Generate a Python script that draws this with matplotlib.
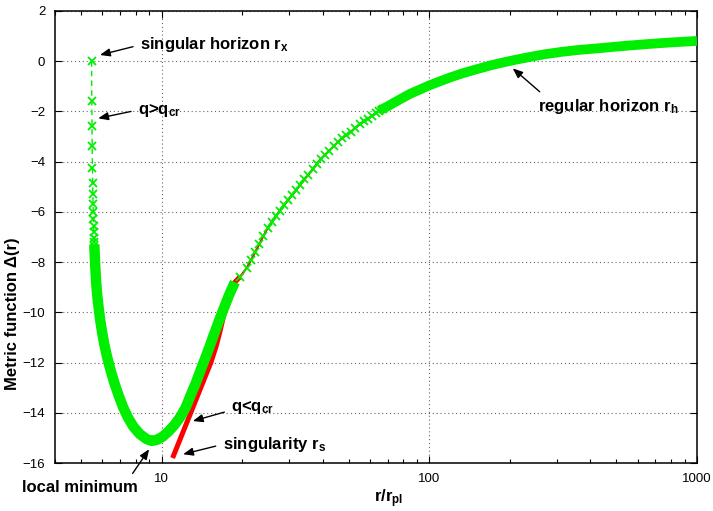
import matplotlib
matplotlib.use("Agg")
import matplotlib.pyplot as plt
from matplotlib.ticker import LogLocator, NullFormatter

plt.rcParams['font.family'] = ['Liberation Sans', 'DejaVu Sans']
plt.rcParams['mathtext.fontset'] = 'custom'
plt.rcParams['mathtext.bf'] = 'Liberation Sans:bold'
plt.rcParams['mathtext.rm'] = 'Liberation Sans'
plt.rcParams['mathtext.it'] = 'Liberation Sans:italic'

# q > q_cr branch, vertical part near the singular horizon
r_vert = [5.48, 5.49, 5.50, 5.51, 5.52, 5.53, 5.54, 5.55, 5.56, 5.57, 5.58, 5.59, 5.60, 5.605, 5.61]
d_vert = [0.0, -1.6, -2.6, -3.4, -4.24, -4.85, -5.3, -5.68, -6.0, -6.3, -6.58, -6.82, -7.05, -7.2, -7.35]

# dense part around the local minimum
r_well = [5.61, 5.635, 5.665, 5.70, 5.75, 5.82, 5.90, 6.00, 6.12, 6.27, 6.45, 6.66, 6.91, 7.20,
          7.50, 7.85, 8.3, 8.8, 9.2, 9.6, 10.1, 10.6, 11.15, 11.7, 12.3, 12.85, 13.45, 14.0,
          14.6, 15.2, 15.8, 16.45, 17.15, 17.9, 18.8]
d_well = [-7.3, -7.8, -8.3, -8.8, -9.3, -9.8, -10.3, -10.8, -11.3, -11.8, -12.3, -12.8, -13.3,
          -13.8, -14.2, -14.55, -14.85, -15.05, -15.12, -15.08, -14.95, -14.75, -14.5, -14.2,
          -13.8, -13.3, -12.8, -12.3, -11.8, -11.3, -10.8, -10.3, -9.8, -9.3, -8.8]

# sparse markers
r_mid = [19.6, 20.8, 21.6, 22.4, 23.2, 24.0, 24.9, 25.8, 26.7, 27.7, 28.7, 29.7, 30.8, 31.9,
         33.0, 34.2, 35.4, 36.7, 38.0, 39.4, 40.8, 42.3, 43.9, 45.5, 47.2, 49.0, 50.9, 52.9,
         55.0, 57.0, 59.0, 61.0, 63.0, 65.0, 67.0]
d_mid = [-8.6, -8.24, -7.92, -7.60, -7.29, -6.97, -6.66, -6.41, -6.18, -5.95, -5.73, -5.54,
         -5.33, -5.12, -4.92, -4.71, -4.52, -4.31, -4.10, -3.89, -3.73, -3.57, -3.40, -3.23,
         -3.08, -2.95, -2.81, -2.67, -2.52, -2.40, -2.29, -2.18, -2.08, -1.98, -1.89]

# dense band towards large r
r_far = [65, 70, 77, 85, 93, 100, 110, 120, 133, 150, 170, 190, 210, 237, 270, 310, 360, 431,
         520, 663, 800, 1000]
d_far = [-1.98, -1.80, -1.55, -1.30, -1.12, -0.97, -0.80, -0.65, -0.49, -0.33, -0.17, -0.05,
         0.05, 0.16, 0.27, 0.36, 0.44, 0.51, 0.59, 0.68, 0.74, 0.80]

# q < q_cr branch ending in the singularity
r_red = [11.0, 11.79, 12.86, 14.02, 15.29, 16.0, 16.5, 17.1, 17.9, 18.8, 19.6]
d_red = [-15.8, -15.0, -14.0, -13.0, -12.0, -11.35, -10.8, -10.1, -9.3, -8.8, -8.6]

green = '#00ee00'
red = '#ff0000'

fig = plt.figure(figsize=(7.13, 5.11), dpi=100)
ax = fig.add_axes([0.0771, 0.0939, 0.9004, 0.885])
ax.set_xscale('log')

# red curve (under the green one)
ax.plot(r_red, d_red, color=red, lw=3.6, solid_capstyle='butt', zorder=2)
ax.plot(r_mid + r_far[2:], d_mid + d_far[2:], color=red, lw=1.5, zorder=2)

# green curve
ax.plot(r_vert, d_vert, color=green, lw=1, ls=(0, (4, 3)), marker='x', ms=6, mew=1.3, zorder=3)
ax.plot(r_well, d_well, color=green, lw=7.5, solid_capstyle='butt', solid_joinstyle='round', zorder=3)
ax.plot(r_mid, d_mid, color=green, lw=0, marker='x', ms=6, mew=1.3, zorder=3)
ax.plot(r_far, d_far, color=green, lw=7, solid_capstyle='butt', zorder=3)

ax.set_xlim(4, 1000)
ax.set_ylim(-16, 2)
ax.set_xticks([10, 100, 1000])
ax.set_xticklabels(['10', '100', '1000'])
ax.xaxis.set_minor_locator(LogLocator(base=10, subs=range(2, 10)))
ax.xaxis.set_minor_formatter(NullFormatter())
ax.set_yticks(range(-16, 3, 2))
ax.tick_params(which='both', direction='in', top=True, right=True, labelsize=9.5)
ax.tick_params(which='major', length=5, width=0.8)
ax.tick_params(which='minor', length=3, width=0.8)
ax.tick_params(axis='x', pad=7)
ax.tick_params(axis='y', pad=7)
ax.grid(True, which='major', color='0.4', lw=0.8, ls=(0, (1, 2.5)))
for s in ax.spines.values():
    s.set_linewidth(1.1)

ax.set_ylabel('Metric function Δ(r)', fontsize=12, fontweight='bold')
ax.yaxis.set_label_coords(-0.054, 0.33)
ax.set_xlabel(r'r/$\mathbf{r_{pl}}$', fontsize=12, fontweight='bold')
ax.xaxis.set_label_coords(0.519, -0.055)

def note(txt, tip, pos, rel=(0, 0.5)):
    ax.annotate(txt, xy=tip, xytext=pos, fontsize=12, fontweight='bold', va='center', ha='left',
                annotation_clip=False,
                arrowprops=dict(arrowstyle='-|>,head_length=0.5,head_width=0.2', color='k', lw=1,
                                shrinkA=3, shrinkB=0, relpos=rel, mutation_scale=12))

note(r'singular horizon $\mathbf{r_x}$', (5.89, 0.24), (8.3, 0.64))
note(r'q>$\mathbf{q_{cr}}$', (5.80, -2.28), (8.16, -1.95))
note(r'q<$\mathbf{q_{cr}}$', (13.09, -14.33), (18.2, -13.79), rel=(0, 0.35))
note(r'singularity $\mathbf{r_s}$', (12.04, -15.65), (16.9, -15.26))
note('local minimum', (8.99, -15.45), (3.01, -16.96), rel=(0.92, 1))
note(r'regular horizon $\mathbf{r_h}$', (205, -0.29), (254, -1.82), rel=(0.06, 1))

fig.savefig('out.png', dpi=100)
